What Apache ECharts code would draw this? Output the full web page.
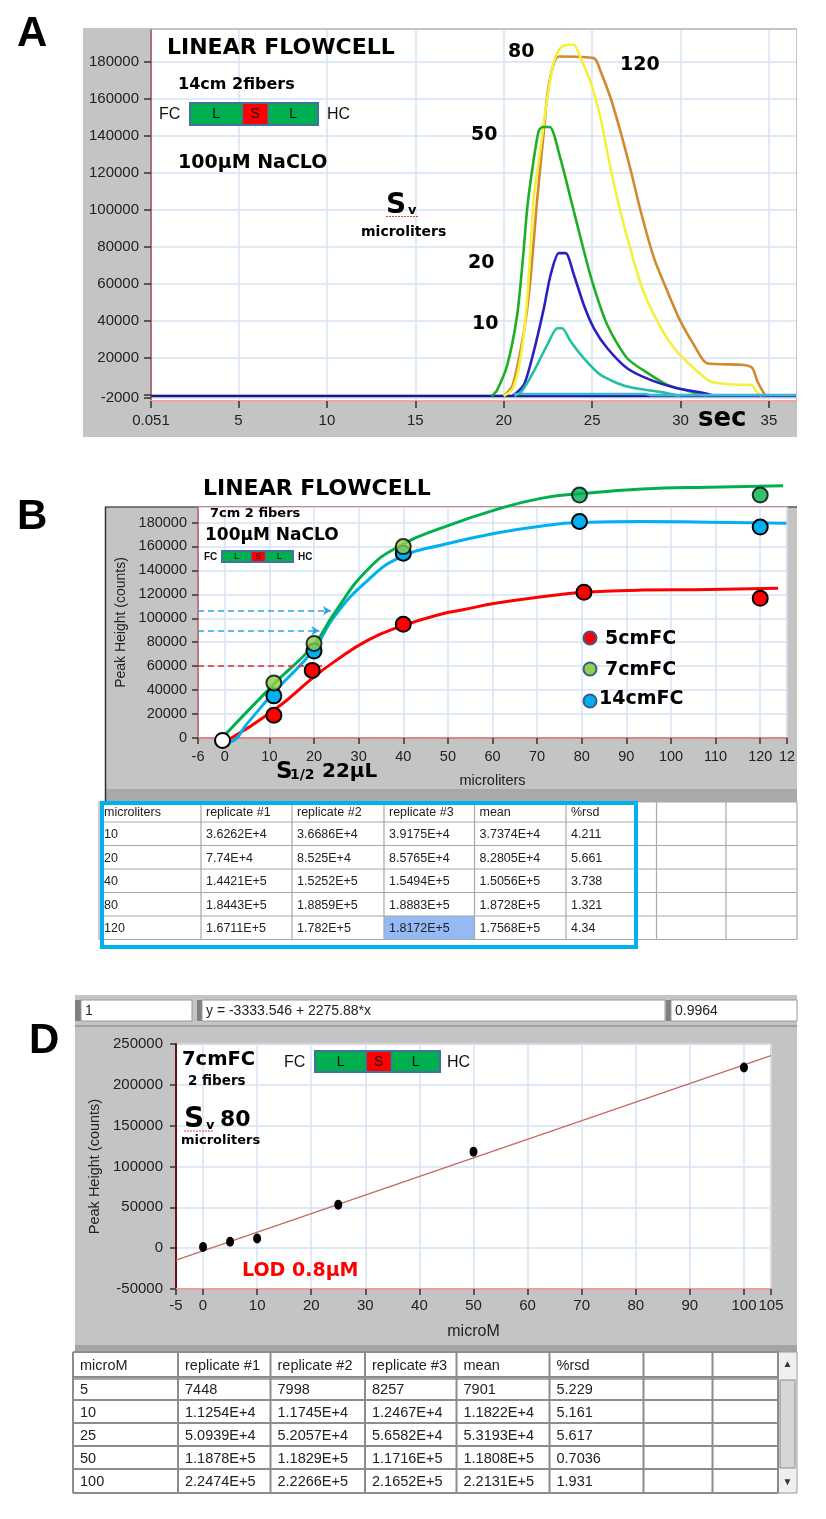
<!DOCTYPE html>
<html><head><meta charset="utf-8">
<script src="https://cdn.jsdelivr.net/npm/echarts/dist/echarts.min.js"></script>
<style>html,body{margin:0;padding:0;background:#fff}#c{width:826px;height:1519px}</style>
</head><body><div id="c"></div>
<script>
// ---------------- DATA ----------------
// Panel A: detector traces (time sec, counts)
const aTicksX = [0.051, 5, 10, 15, 20, 25, 30, 35];
const aTickLabelsY = [-2000, 20000, 40000, 60000, 80000, 100000, 120000, 140000, 160000, 180000];
const aTickMarksY = [-2000, 0, 20000, 40000, 60000, 80000, 100000, 120000, 140000, 160000, 180000];
const aBaseline = [[0.051, -800], [36.53, -800]];
const aCyan = [[20.6, 300], [28.0, 300], [28.3, -300], [36.53, -300]];
const aCurve10 = [[20.6,-800],[21.0,1500],[21.7,12500],[22.46,26800],[23.03,35800],[23.3,35800],[23.78,28800],[24.53,19600],[25.48,10600],[26.98,4300],[28.9,1300],[30.0,-800]];
const aCurve20 = [[20.5,-800],[21.14,5200],[21.7,23300],[22.27,46600],[22.65,64600],[23.12,76400],[23.5,76400],[23.97,64600],[24.53,48400],[25.1,35800],[25.86,25000],[26.98,14200],[28.3,7900],[29.8,3400],[31.1,1200],[32.0,-800]];
const aCurve50 = [[19.3,-800],[19.6,2000],[20.2,16000],[20.76,43000],[21.1,75000],[21.33,100700],[21.6,120700],[21.97,142300],[22.2,144600],[22.6,144600],[23.2,127700],[23.78,106100],[24.35,84500],[25.0,61200],[25.86,37600],[26.98,19600],[28.3,10600],[29.26,5200],[30.8,1000],[31.5,-800]];
const aCurve80 = [[20.0,-800],[20.5,3000],[20.95,19600],[21.33,52000],[21.7,106100],[22.08,133100],[22.46,160100],[22.84,180000],[23.2,187200],[23.6,189000],[23.97,189000],[24.35,181800],[24.9,169200],[25.48,149300],[26.0,124100],[26.6,98900],[27.2,77400],[27.9,55700],[28.9,35800],[29.8,23200],[30.76,14200],[31.7,7000],[33.0,5400],[33.97,5200],[34.35,1000],[34.6,-800]];
const aCurve120 = [[20.0,-800],[20.5,5000],[21.14,34000],[21.5,61200],[21.9,106100],[22.27,142200],[22.55,167300],[23.12,182700],[25.1,181800],[25.48,174600],[26.05,160100],[26.6,142200],[27.2,120500],[27.75,98900],[28.5,73700],[29.26,55700],[30.0,39500],[30.76,26800],[31.5,16900],[33.6,16000],[34.07,14200],[34.35,7000],[34.8,-800]];

// Panel B: peak height vs sample volume
const bTicksX = [-6, 0, 10, 20, 30, 40, 50, 60, 70, 80, 90, 100, 110, 120, 126];
const bTicksY = [0, 20000, 40000, 60000, 80000, 100000, 120000, 140000, 160000, 180000];
const bOrigin = [[-0.5, -2000]];
const bRedPts = [[11,19000],[19.6,56500],[40,95000],[80.5,121700],[120,116700]];
const bGreenPts = [[11,46000],[20,79000],[40,159900],[79.5,203000],[120,203000]];
const bBluePts = [[11,35200],[20,72600],[40,154400],[79.5,180900],[120,176200]];
const bRedFit = [[0,-3300],[11,23200],[20,51100],[24.5,63600],[32.1,81800],[39.6,93500],[48.6,103600],[53.1,106900],[60.6,112500],[71.1,118000],[80.5,121700],[93.6,123600],[108.6,124000],[124,125100]];
const bGreenFit = [[-1,-1500],[11,45000],[20,78000],[24.5,104000],[32.1,141000],[39.6,161300],[48.6,175500],[60.6,190600],[71.1,200400],[79.5,204000],[93.6,208000],[108.6,209600],[125.1,210700]];
const bBlueFit = [[-1.5,-1500],[0,-3800],[1.5,-3000],[5,12000],[11,38000],[20,74000],[24.5,101300],[32.1,132000],[39.6,151600],[48.6,161300],[60.6,171100],[71.1,177200],[79.5,180000],[93.6,180900],[108.6,180300],[125.9,179500]];
const bGuideH = [[60000, 21.8], [89600, 21.2], [106400, 23.8]];   // [counts, x end]
const bGuideV = [[19.5, 62000], [21.2, 89600], [22.8, 106400]];   // [x, counts start]
const bLegend = ['5cmFC', '7cmFC', '14cmFC'];
const bTableHeader = ['microliters', 'replicate #1', 'replicate #2', 'replicate #3', 'mean', '%rsd', '', ''];
const bTableRows = [
  ['10', '3.6262E+4', '3.6686E+4', '3.9175E+4', '3.7374E+4', '4.211'],
  ['20', '7.74E+4', '8.525E+4', '8.5765E+4', '8.2805E+4', '5.661'],
  ['40', '1.4421E+5', '1.5252E+5', '1.5494E+5', '1.5056E+5', '3.738'],
  ['80', '1.8443E+5', '1.8859E+5', '1.8883E+5', '1.8728E+5', '1.321'],
  ['120', '1.6711E+5', '1.782E+5', '1.8172E+5', '1.7568E+5', '4.34']
];

// Panel D: calibration
const dTicksX = [-5, 0, 10, 20, 30, 40, 50, 60, 70, 80, 90, 100, 105];
const dTicksY = [-50000, 0, 50000, 100000, 150000, 200000, 250000];
const dConc = [0, 5, 10, 25, 50, 100];
const dMean = [1500, 7901, 11822, 53193, 118080, 221310];
const dFit = [[-5, -14713], [105, 235634]];
const dFields = ['1', 'y = -3333.546 + 2275.88*x', '0.9964'];
const dTableHeader = ['microM', 'replicate #1', 'replicate #2', 'replicate #3', 'mean', '%rsd', '', ''];
const dTableRows = [
  ['5', '7448', '7998', '8257', '7901', '5.229'],
  ['10', '1.1254E+4', '1.1745E+4', '1.2467E+4', '1.1822E+4', '5.161'],
  ['25', '5.0939E+4', '5.2057E+4', '5.6582E+4', '5.3193E+4', '5.617'],
  ['50', '1.1878E+5', '1.1829E+5', '1.1716E+5', '1.1808E+5', '0.7036'],
  ['100', '2.2474E+5', '2.2266E+5', '2.1652E+5', '2.2131E+5', '1.931']
];

// ---------------- HELPERS ----------------
const FONT = "'Liberation Sans', Arial, sans-serif";
const BOLD = "'DejaVu Sans', 'Liberation Sans', sans-serif";
const GREY = '#c4c4c4';
const G = [];
function rect(x, y, w, h, fill, stroke, lw, z) {
  G.push({type: 'rect', silent: true, z: z === undefined ? -10 : z,
    shape: {x: x, y: y, width: w, height: h},
    style: {fill: fill || 'none', stroke: stroke || null, lineWidth: lw || 0}});
}
function line(x1, y1, x2, y2, stroke, lw, z, dash) {
  G.push({type: 'line', silent: true, z: z === undefined ? -5 : z,
    shape: {x1: x1, y1: y1, x2: x2, y2: y2},
    style: {stroke: stroke, lineWidth: lw, lineDash: dash || null}});
}
function circle(cx, cy, r, fill, stroke, lw, z) {
  G.push({type: 'circle', silent: true, z: z === undefined ? 100 : z,
    shape: {cx: cx, cy: cy, r: r}, style: {fill: fill, stroke: stroke, lineWidth: lw}});
}
function text(x, y, t, size, o) {
  o = o || {};
  G.push({type: 'text', silent: true, z: o.z === undefined ? 100 : o.z, x: x, y: y,
    style: {text: t, fontSize: size, fontFamily: o.family || BOLD, fontWeight: o.weight || 'bold',
      fill: o.fill || '#000', align: o.align || 'left', verticalAlign: 'middle'}});
}
function flowBox(x, y, w, h, fs, fcX, hcX, fcSize, fcWeight) {
  const w1 = w * 0.41, w2 = w * 0.2, w3 = w - w1 - w2;
  rect(x, y, w1, h, '#00b050', null, 0, 90);
  rect(x + w1, y, w2, h, '#ff0000', null, 0, 90);
  rect(x + w1 + w2, y, w3, h, '#00b050', null, 0, 90);
  line(x + w1, y, x + w1, y + h, '#41719c', 1.5, 91);
  line(x + w1 + w2, y, x + w1 + w2, y + h, '#41719c', 1.5, 91);
  rect(x, y, w, h, 'none', '#41719c', 2, 92);
  text(x + w1 / 2, y + h / 2 + 0.5, 'L', fs, {align: 'center', weight: 'normal', family: FONT, fill: '#111'});
  text(x + w1 + w2 / 2, y + h / 2 + 0.5, 'S', fs, {align: 'center', weight: 'normal', family: FONT, fill: '#111'});
  text(x + w1 + w2 + w3 / 2, y + h / 2 + 0.5, 'L', fs, {align: 'center', weight: 'normal', family: FONT, fill: '#111'});
  text(fcX, y + h / 2 + 1, 'FC', fcSize, {weight: fcWeight, family: FONT, fill: '#111'});
  text(hcX, y + h / 2 + 1, 'HC', fcSize, {weight: fcWeight, family: FONT, fill: '#111'});
}
function table(colX, rowY, header, rows, fs, pad, lc, lw, hl) {
  const x0 = colX[0], x1 = colX[colX.length - 1], y0 = rowY[0], y1 = rowY[rowY.length - 1];
  rect(x0, y0, x1 - x0, y1 - y0, '#fff', null, 0, 1);
  if (hl) rect(colX[hl[1]], rowY[hl[0] + 1], colX[hl[1] + 1] - colX[hl[1]], rowY[hl[0] + 2] - rowY[hl[0] + 1], '#95b9f4', null, 0, 2);
  colX.forEach(function (cx) { line(cx, y0, cx, y1, lc, lw, 3); });
  rowY.forEach(function (ry) { line(x0, ry, x1, ry, lc, lw, 3); });
  header.forEach(function (h, i) { text(colX[i] + pad, (rowY[0] + rowY[1]) / 2 + 1, h, fs, {weight: 'normal', family: FONT, fill: '#222', z: 4}); });
  rows.forEach(function (r, ri) {
    r.forEach(function (c, ci) { text(colX[ci] + pad, (rowY[ri + 1] + rowY[ri + 2]) / 2 + 1, c, fs, {weight: 'normal', family: FONT, fill: '#222', z: 4}); });
  });
}

// ---------------- FRAMES / ANNOTATIONS ----------------
// Panel A
text(17, 34, 'A', 42, {family: FONT});
rect(83, 28, 714, 409, GREY, null, 0, -10);
text(167, 48, 'LINEAR FLOWCELL', 22);
text(178, 85, '14cm 2fibers', 16);
flowBox(190, 103, 128, 22, 14, 159, 327, 16, 'normal');
text(178, 163, '100\u03bcM NaCLO', 19);
text(386, 206, 'S', 28);
text(408, 211, 'v', 13);
line(386, 216.5, 418, 216.5, '#e04040', 1, 100, [2, 1]);
text(361, 232, 'microliters', 14);
text(508, 52, '80', 19);
text(620, 65, '120', 19);
text(471, 135, '50', 19);
text(468, 263, '20', 19);
text(472, 324, '10', 19);
text(698, 419, 'sec', 26);

// Panel B
text(17, 517, 'B', 42, {family: FONT});
rect(105, 507, 692, 283, GREY, null, 0, -10);
rect(105, 789, 692, 13, '#a9a9a9', null, 0, -9);
line(105, 507, 797, 507, '#555', 1.5, -4);
line(105.5, 507, 105.5, 802, '#333', 1.5, -4);
text(203, 489, 'LINEAR FLOWCELL', 22);
text(210, 514, '7cm 2 fibers', 13);
text(205, 536, '100\u03bcM NaCLO', 17);
flowBox(222, 551, 71, 11, 9, 204, 298, 10, 'bold');
const bLegendColors = ['#ff0000', '#8fd14f', '#00b0f0'];
const bLegendY = [638, 669, 701];
bLegend.forEach(function (t, i) {
  circle(590, bLegendY[i], 6.5, bLegendColors[i], '#385d8a', 2);
  text(i === 2 ? 599 : 605, bLegendY[i] + (i === 2 ? -2 : 1), t, 19);
});
text(276, 772, 'S', 23);
text(290, 775, '1/2', 14);
text(322, 772, '22\u03bcL', 20);
table([99, 201, 292, 384, 474.5, 566, 656.5, 726, 797], [802, 822, 845.5, 869, 892.5, 916, 939.5],
  bTableHeader, bTableRows, 12.5, 5, '#a8a8a8', 1.2, [4, 3]);
rect(102, 803, 534, 144, 'none', '#00b0f0', 4, 20);

// Panel D
text(29, 1041, 'D', 42, {family: FONT});
rect(75, 995, 722, 350, GREY, null, 0, -10);
rect(75, 1345, 722, 7, '#a4a4a4', null, 0, -9);
const dFieldX = [[75, 81, 192], [197, 202, 665], [666, 671, 797]];
dFieldX.forEach(function (f, i) {
  rect(f[0], 1000, f[1] - f[0], 21, '#808080', null, 0, -8);
  rect(f[1], 1000, f[2] - f[1], 21, '#ffffff', '#9a9a9a', 1, -8);
  text(f[1] + 4, 1011, dFields[i], 14, {weight: 'normal', family: FONT, fill: '#222'});
});
line(75, 1026, 797, 1026, '#a0a0a0', 2, -7);
text(182, 1060, '7cmFC', 19.5);
text(188, 1081, '2 fibers', 13.5);
flowBox(315, 1051, 125, 21, 14, 284, 447, 16, 'normal');
text(184, 1120, 'S', 28);
text(206, 1126, 'v', 13);
line(184, 1131, 214, 1131, '#e04040', 1, 100, [2, 1]);
text(220, 1120, '80', 22);
text(181, 1141, 'microliters', 13);
text(242, 1271, 'LOD 0.8\u03bcM', 19, {fill: '#ff0000'});
table([73, 178, 270.5, 365, 456.5, 549.5, 643.5, 712.5, 778], [1352, 1377, 1400, 1423, 1446, 1469, 1493],
  dTableHeader, dTableRows, 14.5, 7, '#8c8c8c', 2, null);
line(73, 1379, 778, 1379, '#8c8c8c', 1.5, 3);
rect(778, 1352, 19, 141, '#efefef', '#9a9a9a', 1, 2);
rect(780, 1380, 15, 88, '#d6d6d6', '#8a8a8a', 1, 3);
text(787.5, 1364, '\u25b2', 10, {align: 'center', weight: 'normal', family: FONT, fill: '#333', z: 5});
text(787.5, 1482, '\u25bc', 10, {align: 'center', weight: 'normal', family: FONT, fill: '#333', z: 5});

// ---------------- AXES ----------------
const lab = function (extra) {
  return Object.assign({fontSize: 15, color: '#222', fontFamily: FONT, formatter: function (v) { return String(v); }}, extra || {});
};
const grid = [
  {left: 151, top: 30, width: 645, height: 371, show: true, backgroundColor: '#fff', borderWidth: 0},
  {left: 198, top: 507, width: 589, height: 231, show: true, backgroundColor: '#fff', borderColor: '#e4a4a4', borderWidth: 1},
  {left: 176, top: 1044, width: 595, height: 245, show: true, backgroundColor: '#fff', borderColor: '#e4a4a4', borderWidth: 1.5}
];
const split = {show: true, lineStyle: {color: '#d6e3f4', width: 1.5}};
const xAxis = [
  {gridIndex: 0, type: 'value', min: 0.051, max: 36.53,
    axisLine: {show: true, onZero: false, lineStyle: {color: '#eea6a6', width: 2}},
    axisTick: {show: true, length: 7, customValues: aTicksX, lineStyle: {color: '#333', width: 1.5}},
    axisLabel: lab({customValues: aTicksX, margin: 12}), splitLine: split},
  {gridIndex: 1, type: 'value', min: -6, max: 126,
    name: 'microliters', nameLocation: 'middle', nameGap: 35,
    nameTextStyle: {fontSize: 14.5, color: '#222', fontFamily: FONT},
    axisLine: {show: true, onZero: false, lineStyle: {color: '#d88888', width: 2}},
    axisTick: {show: true, length: 6, customValues: bTicksX, lineStyle: {color: '#333', width: 1.5}},
    axisLabel: lab({customValues: bTicksX, margin: 11, fontSize: 14.5, formatter: function (v) { return v === 126 ? '12' : String(v); }}),
    splitLine: split},
  {gridIndex: 2, type: 'value', min: -5, max: 105,
    name: 'microM', nameLocation: 'middle', nameGap: 35,
    nameTextStyle: {fontSize: 16, color: '#222', fontFamily: FONT},
    axisLine: {show: true, onZero: false, lineStyle: {color: '#e8a0a0', width: 2}},
    axisTick: {show: true, length: 6, customValues: dTicksX, lineStyle: {color: '#333', width: 1.5}},
    axisLabel: lab({customValues: dTicksX, margin: 9, fontSize: 15}), splitLine: split}
];
const yAxis = [
  {gridIndex: 0, type: 'value', min: -3500, max: 197000,
    axisLine: {show: true, onZero: false, lineStyle: {color: '#9b4a4a', width: 1.5}},
    axisTick: {show: true, length: 7, customValues: aTickMarksY, lineStyle: {color: '#333', width: 1.5}},
    axisLabel: lab({customValues: aTickLabelsY, margin: 12}), splitLine: split},
  {gridIndex: 1, type: 'value', min: 0, max: 193000,
    name: 'Peak Height (counts)', nameLocation: 'middle', nameGap: 64,
    nameTextStyle: {fontSize: 14, color: '#222', fontFamily: FONT},
    axisLine: {show: true, onZero: false, lineStyle: {color: '#b85a5a', width: 1.5}},
    axisTick: {show: true, length: 6, customValues: bTicksY, lineStyle: {color: '#333', width: 1.5}},
    axisLabel: lab({customValues: bTicksY, margin: 11, fontSize: 14.5}), splitLine: split},
  {gridIndex: 2, type: 'value', min: -50000, max: 250000,
    name: 'Peak Height (counts)', nameLocation: 'middle', nameGap: 62,
    nameTextStyle: {fontSize: 14.5, color: '#222', fontFamily: FONT},
    axisLine: {show: true, onZero: false, lineStyle: {color: '#6e1010', width: 2}},
    axisTick: {show: true, length: 6, customValues: dTicksY, lineStyle: {color: '#333', width: 1.5}},
    axisLabel: lab({customValues: dTicksY, margin: 13, fontSize: 15}), splitLine: split}
];

// ---------------- SERIES ----------------
function aLine(data, color, z) {
  return {type: 'line', xAxisIndex: 0, yAxisIndex: 0, data: data, showSymbol: false, smooth: 0.25,
    lineStyle: {color: color, width: 2.6}, z: z, animation: false};
}
function bFit(data, color) {
  return {type: 'line', xAxisIndex: 1, yAxisIndex: 1, data: data, showSymbol: false, smooth: true, clip: false,
    lineStyle: {color: color, width: 3}, z: 3, animation: false};
}
function bPts(data, color) {
  return {type: 'scatter', xAxisIndex: 1, yAxisIndex: 1, data: data, symbolSize: 15, clip: false,
    itemStyle: {color: color, borderColor: '#000', borderWidth: 2, opacity: 1}, z: 6, animation: false};
}
const guides = [];
const hColors = ['#e03030', '#2aa6e6', '#2aa6e6'];
const vColors = ['#ff1a1a', '#1f74c6', '#1fae4f'];
bGuideH.forEach(function (g, i) {
  guides.push([{coord: [-6, g[0]], symbol: 'none', lineStyle: {color: hColors[i], width: 1.5, type: [6, 4]}},
               {coord: [g[1], g[0]], symbol: i === 0 ? 'none' : 'arrow', symbolSize: [7, 8]}]);
});
bGuideV.forEach(function (g, i) {
  guides.push([{coord: [g[0], g[1]], symbol: 'none', lineStyle: {color: vColors[i], width: 2, type: 'solid'}},
               {coord: [g[0], -1800], symbol: 'arrow', symbolSize: [9, 11]}]);
});

const series = [
  aLine(aBaseline, '#1c1c86', 2),
  aLine(aCurve120, '#d4892c', 3),
  aLine(aCurve80, '#f2f23c', 4),
  aLine(aCurve50, '#1fae24', 5),
  aLine(aCurve20, '#2b1fc4', 6),
  aLine(aCurve10, '#22c0a2', 7),
  aLine(aCyan, '#3cb4dc', 8),
  {type: 'line', xAxisIndex: 1, yAxisIndex: 1, data: [], z: 4, animation: false,
    markLine: {silent: true, animation: false, label: {show: false}, data: guides}},
  bFit(bRedFit, '#ff0000'),
  bFit(bBlueFit, '#00b0f0'),
  bFit(bGreenFit, '#00b050'),
  bPts(bOrigin, '#ffffff'),
  bPts(bRedPts, '#ff0000'),
  bPts(bBluePts, '#00b0f0'),
  {type: 'scatter', xAxisIndex: 1, yAxisIndex: 1, data: bGreenPts, symbolSize: 15, clip: false, z: 6, animation: false,
    itemStyle: {color: function (p) { return p.dataIndex < 3 ? '#8fd14f' : '#00b050'; }, borderColor: '#000', borderWidth: 2}},
  {type: 'line', xAxisIndex: 2, yAxisIndex: 2, data: dFit, showSymbol: false, animation: false,
    lineStyle: {color: '#c4695d', width: 1.3}, z: 3},
  {type: 'scatter', xAxisIndex: 2, yAxisIndex: 2, data: dConc.map(function (x, i) { return [x, dMean[i]]; }),
    symbolSize: [8, 10], itemStyle: {color: '#000', opacity: 1}, z: 5, animation: false}
];

const chart = echarts.init(document.getElementById('c'), null, {renderer: 'canvas', width: 826, height: 1519});
chart.setOption({
  backgroundColor: '#ffffff',
  animation: false,
  grid: grid, xAxis: xAxis, yAxis: yAxis, series: series,
  graphic: {elements: G}
});
</script></body></html>
